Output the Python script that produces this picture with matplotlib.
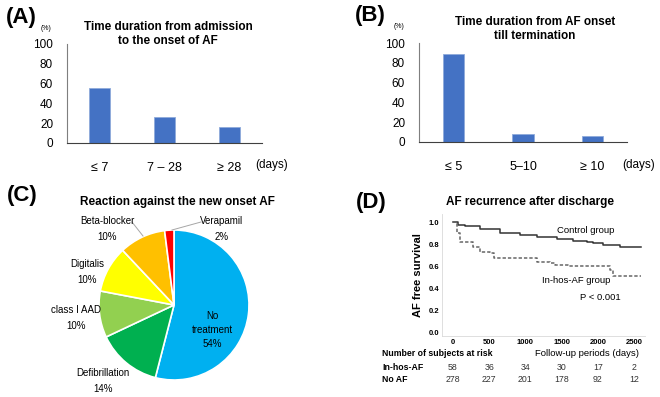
import matplotlib
matplotlib.use("Agg")
import matplotlib.pyplot as plt
import matplotlib.transforms as mtransforms

plt.rcParams["font.family"] = ["Liberation Sans", "DejaVu Sans"]

W, H = 660, 397

# (A) admission -> AF onset
a_cats = ["≤ 7", "7 – 28", "≥ 28"]
a_vals = [56, 26, 16]

# (B) AF onset -> termination
b_cats = ["≤ 5", "5‒10", "≥ 10"]
b_vals = [89, 8, 6]

# (C) reaction against new onset AF
c_labels = ["No\ntreatment", "Defibrillation", "class I AAD", "Digitalis",
            "Beta-blocker", "Verapamil"]
c_vals = [54, 14, 10, 10, 10, 2]
c_colors = ["#00B0F0", "#00B050", "#92D050", "#FFFF00", "#FFC000", "#FF0000"]

# (D) Kaplan-Meier, AF free survival
ctrl_days = [0, 70, 170, 370, 650, 925, 1155, 1430, 1660, 1845, 1940, 2075, 2305, 2600]
ctrl_surv = [1.0, 0.973, 0.968, 0.94, 0.90, 0.88, 0.866, 0.845, 0.83, 0.82, 0.806, 0.794, 0.776, 0.776]
af_days = [0, 50, 90, 230, 280, 370, 510, 560, 1110, 1155, 1340, 1410, 1590, 2100, 2170, 2215, 2600]
af_surv = [1.0, 0.90, 0.815, 0.815, 0.776, 0.73, 0.716, 0.676, 0.676, 0.64, 0.63, 0.61, 0.60, 0.60, 0.564, 0.51, 0.51]
risk_times = [0, 500, 1000, 1500, 2000, 2500]
risk_inhos = [58, 36, 34, 30, 17, 2]
risk_noaf = [278, 227, 201, 178, 92, 12]

C_BAR = "#4472C4"
C_AX = "#7f7f7f"
TAG_SIZE = 16


def rect(l, t, r, b):
    return [l / W, 1 - b / H, (r - l) / W, (b - t) / H]


def ftxt(x, y, s, **kw):
    return fig.text(x / W, 1 - y / H, s, **kw)


fig = plt.figure(figsize=(W / 100, H / 100), dpi=100)
fig.patch.set_facecolor("white")


def bar_panel(box, cats, vals, tag, tag_xy, title, title_xy, pct_xy, days_xy):
    ax = fig.add_axes(rect(*box))
    x = range(len(cats))
    ax.bar(x, vals, width=0.31, color=C_BAR, edgecolor="#8eaadb", linewidth=0.6)
    ax.set_xlim(-0.5, 2.5)
    ax.set_ylim(0, 100)
    ax.set_yticks([0, 20, 40, 60, 80, 100])
    ax.set_xticks(list(x))
    ax.set_xticklabels(cats, fontsize=9)
    ax.tick_params(axis="both", length=0)
    ax.tick_params(axis="x", pad=14)
    ax.tick_params(axis="y", labelsize=8.5, pad=10)
    for s in ("top", "right"):
        ax.spines[s].set_visible(False)
    ax.spines["left"].set_color(C_AX)
    ax.spines["bottom"].set_color("#404040")
    ax.spines["left"].set_linewidth(0.8)
    ax.spines["bottom"].set_linewidth(0.8)
    ftxt(*tag_xy, tag, fontsize=TAG_SIZE, fontweight="bold", va="center", ha="left")
    ftxt(*title_xy, title, fontsize=8.5, fontweight="bold", va="center",
         ha="center", linespacing=1.25)
    ftxt(*pct_xy, "(%)", fontsize=5, va="center", ha="center")
    ftxt(*days_xy, "(days)", fontsize=8.5, va="center", ha="center")
    return ax


bar_panel((67, 44, 262, 143), a_cats, a_vals, "(A)", (6, 17),
          "Time duration from admission\nto the onset of AF", (168, 34),
          (46, 29), (272, 165))
bar_panel((419, 43, 627, 142), b_cats, b_vals, "(B)", (355, 16),
          "Time duration from AF onset\ntill termination", (535, 29),
          (399, 27), (639, 165))

# (C) pie
axc = fig.add_axes(rect(99, 230, 249, 380))
axc.pie(c_vals, colors=c_colors, startangle=90, counterclock=False,
        radius=1.0, wedgeprops=dict(edgecolor="white", linewidth=1.2))
axc.set_xlim(-1, 1)
axc.set_ylim(-1, 1)
axc.set_aspect("equal")
axc.axis("off")

lab_px = [(212, 330), (103, 381), (76, 318), (87, 272), (107, 229), (222, 229)]
for lab, v, (lx, ly) in zip(c_labels, c_vals, lab_px):
    ftxt(lx, ly, f"{lab}\n{v}%", fontsize=7, ha="center", va="center",
         linespacing=1.75 if "\n" not in lab else 1.55)

# leader lines
for (x0, y0), (x1, y1) in [((132, 222), (143, 236)), ((201, 222), (172, 230))]:
    fig.add_artist(plt.Line2D([x0 / W, x1 / W], [1 - y0 / H, 1 - y1 / H],
                              color="#a6a6a6", lw=0.7))

ftxt(7, 196, "(C)", fontsize=TAG_SIZE, fontweight="bold", va="center", ha="left")
ftxt(177, 202, "Reaction against the new onset AF", fontsize=8.5,
     fontweight="bold", va="center", ha="center")

# (D) Kaplan-Meier
axd = fig.add_axes(rect(442, 214, 645, 336))
axd.step(ctrl_days, ctrl_surv, where="post", color="#333333", lw=1.1)
axd.step(af_days, af_surv, where="post", color="#666666", lw=1.1,
         linestyle=(0, (2.2, 1.3)))
axd.set_xlim(-152, 2652)
axd.set_ylim(-0.036, 1.073)
axd.set_xticks(risk_times)
axd.set_yticks([0.0, 0.2, 0.4, 0.6, 0.8, 1.0])
axd.set_yticklabels([f"{t:.1f}" for t in [0.0, 0.2, 0.4, 0.6, 0.8, 1.0]])
axd.tick_params(length=0, labelsize=5.5, pad=2)
for lbl in axd.get_xticklabels() + axd.get_yticklabels():
    lbl.set_fontweight("bold")
for s in ("top", "right"):
    axd.spines[s].set_visible(False)
for s in ("left", "bottom"):
    axd.spines[s].set_color("#d9d9d9")
    axd.spines[s].set_linewidth(0.6)
axd.set_ylabel("AF free survival", fontsize=8, fontweight="bold", labelpad=4)
axd.text(1833, 0.927, "Control group", fontsize=6.8, ha="center", va="center")
axd.text(1708, 0.473, "In-hos-AF group", fontsize=6.8, ha="center", va="center")
axd.text(2030, 0.318, "P < 0.001", fontsize=6.8, ha="center", va="center")

ftxt(356, 202, "(D)", fontsize=TAG_SIZE, fontweight="bold", va="center", ha="left")
ftxt(530, 202, "AF recurrence after discharge", fontsize=8.5,
     fontweight="bold", va="center", ha="center")

ftxt(382, 353, "Number of subjects at risk", fontsize=6.3, fontweight="bold",
     va="center", ha="left")
ftxt(587, 353, "Follow-up periods (days)", fontsize=6.8, va="center", ha="center")
ftxt(382, 367, "In-hos-AF", fontsize=6.3, fontweight="bold", va="center", ha="left")
ftxt(382, 380, "No AF", fontsize=6.3, fontweight="bold", va="center", ha="left")

trans = mtransforms.blended_transform_factory(axd.transData, fig.transFigure)
for t, a, b in zip(risk_times, risk_inhos, risk_noaf):
    fig.text(t, 1 - 367 / H, str(a), transform=trans, fontsize=6.3,
             ha="center", va="center", color="#333333")
    fig.text(t, 1 - 380 / H, str(b), transform=trans, fontsize=6.3,
             ha="center", va="center", color="#333333")

fig.savefig("out.png", dpi=100, facecolor="white")
